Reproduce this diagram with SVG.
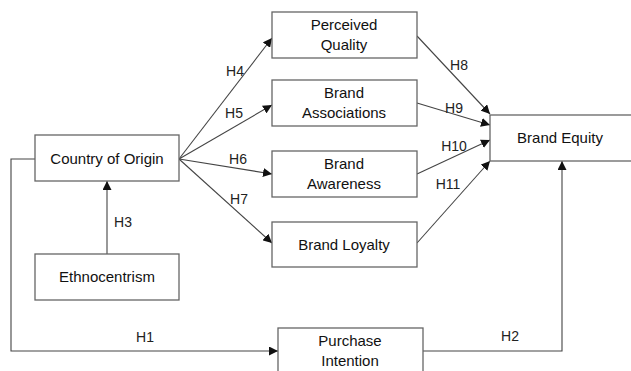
<svg xmlns="http://www.w3.org/2000/svg" width="631" height="371" viewBox="0 0 631 371">
<defs>
<marker id="ah" viewBox="0 0 10 10" refX="10" refY="5" markerWidth="9" markerHeight="9" markerUnits="userSpaceOnUse" orient="auto">
<path d="M0,0 L10,5 L0,10 z" fill="#111"/>
</marker>
<style>
.box{fill:#fff;stroke:#666;stroke-width:1.3}
.t{font-family:"Liberation Sans",Arial,sans-serif;font-size:15px;fill:#111;text-anchor:middle}
.l{font-family:"Liberation Sans",Arial,sans-serif;font-size:14px;fill:#222;text-anchor:middle}
.c{fill:none;stroke:#444;stroke-width:1.1}
.ca{fill:none;stroke:#444;stroke-width:1.1;marker-end:url(#ah)}
</style>
</defs>
<rect width="631" height="371" fill="#fff"/>
<g id="connectors">
<polyline class="ca" points="35,159 11,159 11,351 278,351"/>
<line class="ca" x1="107" y1="254" x2="107" y2="181"/>
<line class="ca" x1="179" y1="159" x2="272" y2="38"/>
<line class="ca" x1="179" y1="159" x2="272" y2="105"/>
<line class="ca" x1="179" y1="159" x2="272" y2="174"/>
<line class="ca" x1="179" y1="159" x2="272" y2="243"/>
<line class="ca" x1="417" y1="36" x2="490" y2="114"/>
<line class="ca" x1="417" y1="103" x2="490" y2="125"/>
<line class="ca" x1="417" y1="174" x2="490" y2="140"/>
<line class="ca" x1="417" y1="243" x2="490" y2="161"/>
<polyline class="ca" points="423,351 562,351 562,161"/>
<text class="l" x="145" y="342">H1</text>
<text class="l" x="123" y="227">H3</text>
<text class="l" x="235" y="76">H4</text>
<text class="l" x="234" y="118">H5</text>
<text class="l" x="238" y="164">H6</text>
<text class="l" x="239" y="204">H7</text>
<text class="l" x="459" y="70">H8</text>
<text class="l" x="454" y="113">H9</text>
<text class="l" x="454" y="151">H10</text>
<text class="l" x="448" y="189">H11</text>
<text class="l" x="510" y="341">H2</text>
</g>
<g id="country">
<rect class="box" x="35" y="135" width="144" height="46"/>
<text class="t" x="107" y="164">Country of Origin</text>
</g>
<g id="ethno">
<rect class="box" x="35" y="254" width="144" height="46"/>
<text class="t" x="107" y="282">Ethnocentrism</text>
</g>
<g id="quality">
<rect class="box" x="272" y="12" width="145" height="46"/>
<text class="t" x="344" y="30">Perceived</text>
<text class="t" x="344" y="50">Quality</text>
</g>
<g id="assoc">
<rect class="box" x="272" y="80" width="145" height="46"/>
<text class="t" x="344" y="98">Brand</text>
<text class="t" x="344" y="118">Associations</text>
</g>
<g id="aware">
<rect class="box" x="272" y="151" width="145" height="46"/>
<text class="t" x="344" y="169">Brand</text>
<text class="t" x="344" y="189">Awareness</text>
</g>
<g id="loyalty">
<rect class="box" x="272" y="222" width="145" height="45"/>
<text class="t" x="344" y="250">Brand Loyalty</text>
</g>
<g id="equity">
<rect class="box" x="490" y="115" width="150" height="46"/>
<text class="t" x="560" y="143">Brand Equity</text>
</g>
<g id="purchase">
<rect class="box" x="278" y="328" width="145" height="50"/>
<text class="t" x="350" y="346">Purchase</text>
<text class="t" x="350" y="366">Intention</text>
</g>
</svg>
